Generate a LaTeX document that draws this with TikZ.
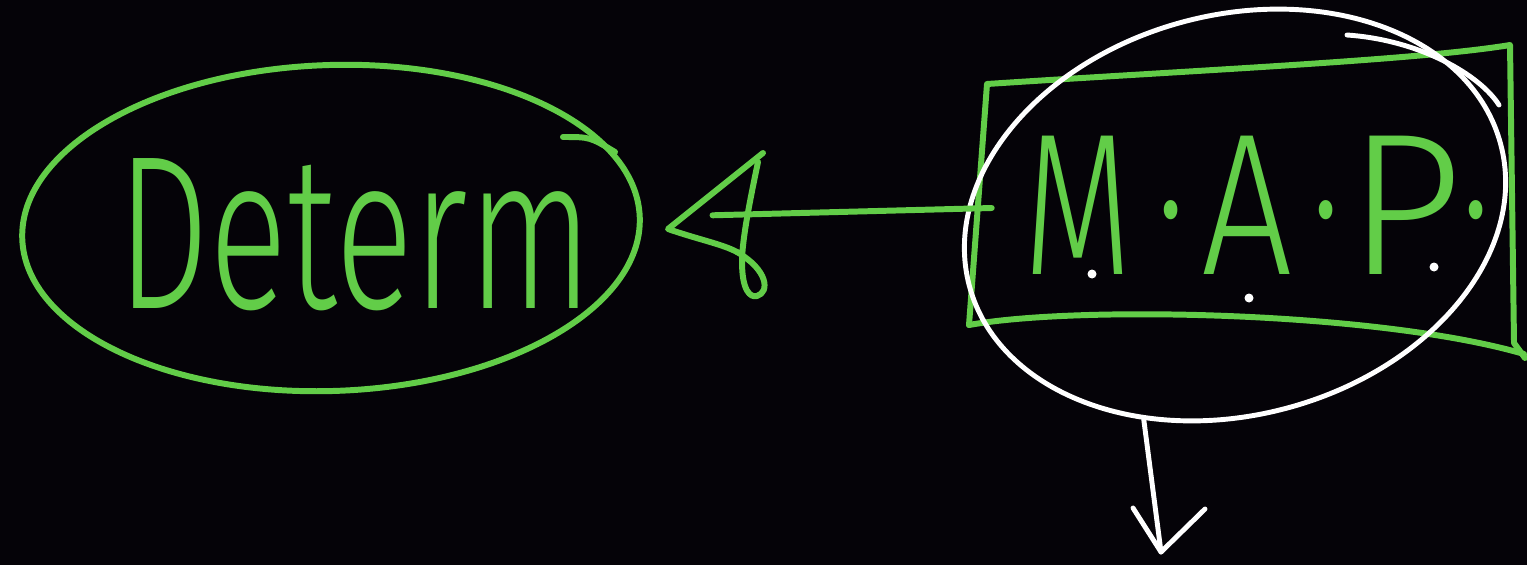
\documentclass[tikz,border=0pt]{standalone}
\usepackage{fontspec}
\usepackage{graphicx}
\IfFontExistsTF{Fira Sans Light}{\newfontfamily\handfont{Fira Sans Light}}{\newfontfamily\handfont{Fira Sans}}
\usetikzlibrary{shapes.geometric,calc}
\definecolor{hgreen}{RGB}{98,205,72}
\definecolor{bgink}{RGB}{5,3,8}
\newcommand{\mapslot}[3]{\makebox[#1][c]{\scalebox{#2}[1]{#3}}}
\begin{document}
\begin{tikzpicture}[x=0.02cm,y=-0.02cm,
 gline/.style={draw=hgreen,line width=3.4pt,line cap=round,line join=round},
 wline/.style={draw=white,line width=2.8pt,line cap=round,line join=round},
 handtext/.style={text=hgreen,inner sep=0pt,font=\handfont\fontsize{115}{115}\selectfont}]
\fill[bgink] (0,0) rectangle (1527,565);
\useasboundingbox (0,0) rectangle (1527,565);
% Determ ellipse
\node[ellipse,gline,minimum width=12.36cm,minimum height=6.52cm,inner sep=0pt,rotate=2] (det) at (331,228) {};
\node[handtext] (dettext) at (355,235) {\resizebox{9.5cm}{3cm}{Determ}};
\draw[gline] (563,137) .. controls (590,137) .. (615,152);
% MAP box
\draw[gline] (969,325) -- (987,84) .. controls (1200,70) and (1420,60) .. (1510,45) -- (1514,343) -- (1525,358);
\draw[gline] (969,325) .. controls (1080,305) and (1380,312) .. (1524,354);
\node[minimum width=10.32cm,minimum height=5cm] (mapbox) at (1250,208) {};
\node[handtext] (maptext) at (1266,205) {\mapslot{2.26cm}{0.7}{M}\mapslot{1.48cm}{0.7}{\textperiodcentered}\mapslot{1.54cm}{0.8}{A}\mapslot{1.64cm}{0.7}{\textperiodcentered}\mapslot{1.5cm}{1.0}{P}\mapslot{1.36cm}{0.7}{\textperiodcentered}};
\fill[white] (1092,274) circle[radius=0.09cm];
\fill[white] (1249,298) circle[radius=0.09cm];
\fill[white] (1434,267) circle[radius=0.09cm];
% white ellipse
\node[ellipse,wline,minimum width=11cm,minimum height=8cm,inner sep=0pt,rotate=15] (mapcirc) at (1235,215) {};
\draw[wline] (1347,35) .. controls (1420,40) and (1480,75) .. (1499,105);
% down arrow
\coordinate (down) at (1161,552);
\draw[wline] (mapcirc.231) -- (down);
\draw[wline] ($(down)+(-28,-44)$) -- (down) -- ($(down)+(44,-43)$);
% green arrow
\draw[gline] (mapbox.west) -- ($(det.east)!0.2!(mapbox.west)$);
\draw[gline] (763,153) -- (668,229) .. controls (700,240) and (722,244) .. (737,252);
\draw[gline] (758,162) .. controls (750,200) and (742,240) .. (742,262) .. controls (742,290) and (750,298) .. (757,296) .. controls (770,292) and (768,270) .. (737,252);
\end{tikzpicture}
\end{document}
